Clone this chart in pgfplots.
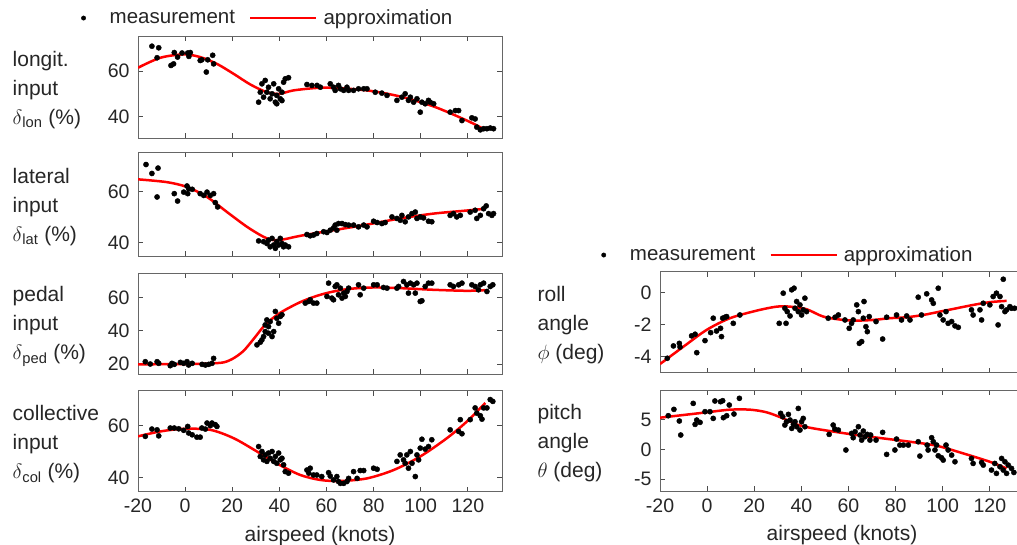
\documentclass[border=0pt]{standalone}
\usepackage{pgfplots}
\pgfplotsset{compat=1.18}
\usepackage{fontspec}
\setmainfont{Liberation Sans}

\pgfplotstableread{
x y
-14.1 71.0
-11.2 70.3
-11.9 65.9
-6 62.5
-4.9 63.2
-4.6 68.2
-3.2 66.2
-1.3 68
1.1 68
2.2 68.2
1.6 66.5
6.4 64.7
7.1 65
9 59.6
9.6 65
11.7 67
12.1 63.2
31.2 46.3
33.3 48.5
32.6 54.4
34 55.9
34.7 50.7
35.4 52.9
36.1 47.8
36.9 50
37.6 54.4
38.3 46.3
38.9 49.3
39.7 52.2
40.4 47.8
41.1 50.7
41.8 55.1
42.5 56.6
43.9 57.1
31.9 50.7
41.1 47
38.9 45.6
51.7 54.1
53.8 53.7
56 53.7
57.4 52.9
61.6 54.4
63 52.9
63.7 51.5
65.1 53.7
65.9 52.2
67.3 51.5
68.7 52.9
69.4 51.5
71.5 51.5
73.6 52.2
75.8 52.2
77.2 52.2
80.7 50.7
83.5 50.3
85.7 49.3
89.9 47.1
92 48.5
93.4 50
94.8 47.1
95.6 48.5
97 46.3
98.4 47.8
99.8 41.9
100.5 46.3
101.9 45.6
103.3 47.1
104 46.3
105.5 45.6
112.5 41.9
114.7 42.6
116.1 42.6
117.5 38.2
121.7 39.4
123.1 38.9
123.8 35.3
125.3 34.1
126.7 34.6
128.1 34.6
129.5 34.9
130.9 34.6
}\lonmeas
\pgfplotstableread{
x y
-20 61.5
-10.5 65.9
-0.6 67.4
6.4 66.2
13.5 63.2
20.6 58.8
27.7 54.1
34.7 50.7
40 50
46 51.5
56 52.6
63 52.6
77.2 51.5
91.3 48.8
105.5 44.4
119.6 38.2
127.4 34.1
}\lonappr

\pgfplotstableread{
x y
-16.6 70.5
-14.1 67
-11.5 69.1
-11.9 57.8
-4.6 59.1
-3.2 56.2
-0.6 59.7
0.8 62.1
1.5 61
3 60.8
1.1 59.1
6.4 59.1
7.9 58.4
9.3 59.7
10.7 58.4
12.1 59.1
12.8 55.6
13.8 53.9
31.2 40.6
33.3 40.3
34.7 39.6
35.4 40.9
36.1 38.3
36.9 41.6
37.6 39
38.3 37.7
38.9 40.3
39.7 39
40.4 41.6
41.1 39.6
41.8 38.3
42.5 39
43.9 38.3
51.7 43.1
53.1 42.6
54.5 42.9
55.9 43.5
58.8 44.2
60.2 43.9
61.6 44.8
63 45.7
63.7 46.8
64.4 44.8
65.1 47.4
66.6 47.4
68 47
69.4 46.8
71.5 46.8
73.6 46.1
75.8 46.8
77.2 46.1
80 48.3
81.5 47.8
83.5 47.4
84.9 47.8
87.8 50
89.9 49.4
91.3 48.7
92 50.6
93.4 48.1
94.8 50
96.3 51.3
97.7 51.9
98.4 49.4
99.8 50
101.2 49.6
103.3 48.3
104.7 48.1
112.5 50.6
113.9 51.3
115.3 50
116.8 50.6
121 51.9
123.1 52.6
123.8 49.4
125.3 50.6
126.7 53.2
127.8 54.3
128.8 51.3
130.2 50.6
130.9 51.3
}\latmeas
\pgfplotstableread{
x y
-20 64.7
-7.7 63.6
0.8 61.7
9.3 57.8
17.8 51.9
26.3 46.1
33.3 42.2
37.6 40.9
41.8 41.2
48.9 42.6
63 44.8
77.2 47
91.3 49.4
105.5 51.3
119.6 52.5
127.4 53.2
}\latappr

\pgfplotstableread{
x y
-16.9 21.4
-14.8 20
-11.9 21.4
-11.2 20.4
-6.3 19
-5.6 20.4
-4.6 19.8
-2 21
-0.6 20.4
0.8 21.4
1.5 19.4
3 20.4
7.2 19.8
8.6 19.4
10 19.8
11.4 20.4
12.1 23.4
30.5 31.5
31.9 33.1
32.6 34.5
33.3 36.5
34 43.5
34.7 46.5
35.4 42.5
36.1 45.5
36.9 36.5
37.6 39.5
38.3 51.6
38.9 47.5
39.7 44.5
40.4 48.6
41.1 49.6
35.4 38.5
34 39.5
51 56.6
52.5 57.6
53.1 58.6
54.5 56.6
55.9 56.6
60.2 60.6
60.9 68.6
62.3 59.6
63 58.6
63.7 66.6
64.4 67.6
65.1 61.6
65.9 65.6
66.6 59.6
67.3 62.6
68 60.6
68.7 63.6
69.4 65.6
73.6 67.6
74.3 61.6
75.8 65.6
80 67.6
81.5 67.6
84.2 66
85.7 65.6
89.9 65.6
90.6 66.6
92.7 69.6
94.1 67.6
94.8 62.6
95.6 68.6
97 67.6
97.7 62.6
98.4 68.6
99.8 57.6
100.5 58
101.9 66.6
103.3 68.6
104.7 68.6
112.5 67.6
113.9 66.6
116.1 67.6
117.5 68.6
121.7 67.6
123.1 66.6
124.5 64.6
125.3 67.6
126.7 68.6
128.1 63.6
129.5 66.6
130.6 67.6
}\pedmeas
\pgfplotstableread{
x y
-20 19.8
0 20
10 20.3
16.4 21
20.6 23.5
24.8 27.9
29.1 35.1
33.3 42.5
37.6 48
41.8 52
48.9 57.2
56 61
63 63.6
70.1 65.2
80 66
91.3 65.6
105.5 64.6
119.6 64
127.4 64.4
}\pedappr

\pgfplotstableread{
x y
-16.9 55.8
-14.1 58.6
-11.9 58.3
-11.2 56
-6.3 59
-4.6 59
-2.7 58.7
-0.6 58.1
1.1 59.6
1.5 57.1
3 56.4
5 55.5
6.4 55.5
7.1 59
8.6 58.6
9.3 60.9
10.7 59.9
11.4 60.9
12.8 60.3
13.5 59.6
31.2 51.9
31.9 48.1
32.6 50
33.3 46.8
34 48.7
34.7 46.2
35.4 49.4
36.1 47.4
36.9 50
37.6 46.2
38.3 48.1
38.9 45.5
39.7 49.4
40.4 46.8
41.1 47.4
41.8 44.9
42.5 42.3
43.9 41.7
51.7 42.9
52.5 41.7
53.1 43.6
54.5 41
55.9 41
58 40.4
60.9 41.9
61.6 40.6
63 39.1
64.4 40.4
65.1 38.5
65.9 37.8
67.3 37.8
68.7 38.5
69.4 39.7
71.5 42.3
73 39.7
74.3 42.7
75.8 42.7
80 43.6
81.5 43.2
89.9 46.2
91.3 48.7
92.7 46.8
93.4 45.5
94.1 48.7
94.8 43.6
95.6 50
96.3 45.5
97.7 40.4
98.4 48.7
99.1 46.8
99.8 51.3
100.5 54.7
101.9 50.9
103.3 51.9
104.7 54.5
112.5 58.3
116.1 57.7
116.8 62.2
117.5 56.8
121 62.2
123.1 66.7
123.8 64.7
125.3 63.7
126 62.4
126.7 66.7
128.1 66.7
129.5 69.9
130.6 69.2
}\colmeas
\pgfplotstableread{
x y
-20 55.8
-10.5 57.7
-0.6 58.7
10.7 58.3
20.6 55.1
30.5 50
40 44.9
48.9 41
57.4 39.1
65.9 38.7
77.2 39.7
88.5 42.9
99.8 48.1
111.1 55.1
119.6 61.5
127.4 68.6
}\colappr

\pgfplotstableread{
x y
-16.9 -4.1
-14.3 -3.33
-11.8 -3.17
-11.5 -3.4
-6.6 -2.7
-5.1 -2.6
-4.4 -3.75
-0.9 -3.0
1.5 -2.5
2.6 -1.6
4 -2.4
5.7 -2.23
6.1 -2.75
6.6 -1.6
7.6 -1.54
8.3 -1.5
11.1 -1.92
13.9 -1.4
30.6 -1.92
32.3 -0.04
33 -0.98
33.5 -1.92
34 -1.19
35.2 -1.46
35.9 0.17
36.9 0.27
37.3 -0.98
38 -0.56
38.7 -1.19
39.4 -0.77
40.1 -1.4
40.8 -1.08
41.5 -0.35
42.2 -1.19
51.4 -1.6
54.3 -1.54
55.7 -1.4
58.5 -1.71
60.3 -2.23
61.3 -1.92
62 -1.71
63.5 -0.77
64.2 -1.19
64.6 -3.17
65.6 -3.06
66.3 -1.6
66.6 -0.56
67.4 -2.13
68 -2.44
68.8 -1.5
71.7 -1.81
74.5 -2.9
76.2 -1.54
80.4 -1.4
82.5 -1.71
84.7 -1.46
86.1 -1.71
89.6 -0.29
91 -1.4
93.2 -0.08
95.3 -0.46
96 -0.67
98.1 0.27
98.8 -1.4
100.2 -1.71
101.4 -1.19
102.3 -1.92
103.8 -1.81
105.2 -2.08
106.6 -2.17
112.2 -1.08
112.9 -1.4
115.8 -1.08
116.5 -1.71
117.2 -0.67
120 -0.77
121.4 -0.25
122.8 -0.04
123.5 -2.02
124.3 -0.25
125 -0.88
125.7 0.83
126.4 -1.19
127.1 -1.08
128.5 -0.88
129.2 -0.98
130.5 -0.98
}\rollmeas
\pgfplotstableread{
x y
-20 -4.46
-10.1 -3.38
-0.2 -2.33
9.7 -1.6
21 -1.13
29.5 -0.88
35.2 -0.88
42.2 -1.04
49.3 -1.5
57.8 -1.71
63.5 -1.75
70.5 -1.71
77.6 -1.6
84.7 -1.54
91.7 -1.4
98.8 -1.19
105.9 -0.98
113 -0.77
120 -0.6
127.1 -0.52
}\rollappr

\pgfplotstableread{
x y
-16.5 5.67
-14.1 6.74
-11.8 4.78
-11.2 2.42
-5.9 7.75
-5.1 4.21
-4.4 4.94
-3 4.55
-0.9 6.35
1.2 6.35
2.6 5.22
3.3 8.15
5.7 8.03
6.6 8.2
6.9 5.34
8.3 5.67
9.4 7.47
11.4 5.96
13.7 8.6
31.2 6.07
32.1 5.5
33 4.1
33.7 4.66
34.5 5.9
35.2 4.94
35.9 3.54
36.6 4.21
37.3 4.66
38 3.82
38.7 6.9
39.4 3.26
40.1 4.66
40.8 5.22
41.5 3.82
51.8 2.53
53.5 4.1
54.2 3.43
55.7 3.26
58.9 -0.1
61.3 2.7
62 1.97
62.8 2.98
64.2 3.82
64.9 2.42
65.6 1.57
66.3 3.09
67 2.13
68 2.53
69.1 1.57
69.4 2.42
71.7 1.57
74.5 2.87
76.2 -0.84
79.7 -0.1
80.4 1.74
81.8 0.73
83.3 0.73
85.4 0.73
89.6 1.29
90.3 -1.12
93.4 0.73
93.8 -0.1
95.3 1.97
96 1.29
96.7 -0.1
97.4 0.73
98.1 -1.07
99.5 -1.4
100.2 -1.8
101.4 0.73
102.3 -0.1
103.8 -0.96
105.2 -2.08
112.2 -1.52
112.9 -2.36
116.5 -2.19
117.2 -2.64
120.7 -3.48
122.1 -2.36
122.8 -4.04
124.3 -2.92
125 -1.52
125.7 -3.48
126.4 -2.08
127.1 -4.04
127.8 -2.64
129.2 -3.2
130.2 -3.88
}\pitchmeas
\pgfplotstableread{
x y
-20 5.34
-10.1 5.79
-0.2 6.24
9.7 6.69
18.2 6.69
25.3 6.24
32.3 5.22
38 4.21
43.6 3.65
52.1 3.09
63.5 2.42
74.8 1.85
86.1 1.29
97.4 0.62
108.7 -0.67
120 -2.08
127.1 -3.2
}\pitchappr

\pgfplotsset{
  panel/.style={
    scale only axis, width=364pt,
    xmin=-20, xmax=134.5,
    xtick={-20,0,20,40,60,80,100,120},
    tick align=inside,
    major tick length=5pt,
    axis line style={draw=black!60, line width=0.8pt},
    tick style={draw=black!70, line width=0.8pt},
    tick label style={font=\fontsize{19.5}{21}\selectfont, text=black!85},
    yticklabel style={xshift=-5pt},
    xticklabel style={yshift=-4pt},
    /pgf/number format/assume math mode=true,
    label style={font=\fontsize{21}{29}\selectfont, text=black!85},
    ylabel style={rotate=-90, anchor=west, align=left, yshift=-3pt, at={(axis description cs:-0.354,0.5)}},
    xlabel style={at={(axis description cs:0.5,0)}, anchor=center, yshift=-44pt},
    legend style={draw=none, fill=none, font=\fontsize{20.5}{24}\selectfont,
      legend columns=2, anchor=west, text=black!85,
      /tikz/every even column/.append style={column sep=12pt}},
  },
  meas/.style={only marks, mark=*, mark size=2.6pt, black,
    legend image code/.code={\fill[black] (0pt,0pt) circle (2.2pt); \path (-2pt,0pt) (24pt,0pt);}},
  appr/.style={red, line width=2.5pt, smooth, no markers,
    legend image code/.code={\draw[red, line width=2.5pt] (0pt,0pt) -- (66pt,0pt); \path (0pt,0pt) (70pt,0pt);}},
}

\begin{document}
\begin{tikzpicture}
\useasboundingbox (0pt,0pt) rectangle (1017pt,544pt);

% longitudinal
\begin{axis}[panel, at={(138pt,406pt)}, anchor=south west, height=102pt,
  ymin=30.5, ymax=75.5, ytick={40,60}, xticklabel=\empty,
  ylabel={longit.\\input\\$\delta$\textsubscript{lon} (\%)},
  legend style={at={(axis description cs:-0.165,1.176)}}]
\addplot[meas] table {\lonmeas};
\addlegendentry{measurement}
\addplot[appr] table {\lonappr};
\addlegendentry{approximation}
\end{axis}

% lateral
\begin{axis}[panel, at={(138pt,288pt)}, anchor=south west, height=104pt,
  ymin=34.7, ymax=75.4, ytick={40,60}, xticklabel=\empty,
  ylabel={lateral\\input\\$\delta$\textsubscript{lat} (\%)}]
\addplot[meas] table {\latmeas};
\addplot[appr] table {\latappr};
\end{axis}

% pedal
\begin{axis}[panel, at={(138pt,170pt)}, anchor=south west, height=101pt,
  ymin=14, ymax=74.7, ytick={20,40,60}, xticklabel=\empty,
  ylabel={pedal\\input\\$\delta$\textsubscript{ped} (\%)}]
\addplot[meas] table {\pedmeas};
\addplot[appr] table {\pedappr};
\end{axis}

% collective
\begin{axis}[panel, at={(138pt,52.3pt)}, anchor=south west, height=101pt,
  ymin=34.6, ymax=73.3, ytick={40,60},
  xlabel={airspeed (knots)},
  ylabel={collective\\input\\$\delta$\textsubscript{col} (\%)}]
\addplot[meas] table {\colmeas};
\addplot[appr] table {\colappr};
\end{axis}

% roll
\begin{axis}[panel, at={(660pt,171.3pt)}, anchor=south west, height=101pt,
  ymin=-5, ymax=1.3, ytick={-4,-2,0}, xticklabel=\empty,
  ylabel={roll\\angle\\$\phi$ (deg)},
  ylabel style={at={(axis description cs:-0.346,0.5)}},
  legend style={at={(axis description cs:-0.170,1.165)}}]
\addplot[meas] table {\rollmeas};
\addlegendentry{measurement}
\addplot[appr] table {\rollappr};
\addlegendentry{approximation}
\end{axis}

% pitch
\begin{axis}[panel, at={(660pt,53pt)}, anchor=south west, height=101pt,
  ymin=-7, ymax=10, ytick={-5,0,5},
  xlabel={airspeed (knots)},
  ylabel={pitch\\angle\\$\theta$ (deg)},
  ylabel style={at={(axis description cs:-0.346,0.5)}}]
\addplot[meas] table {\pitchmeas};
\addplot[appr] table {\pitchappr};
\end{axis}
\end{tikzpicture}
\end{document}
